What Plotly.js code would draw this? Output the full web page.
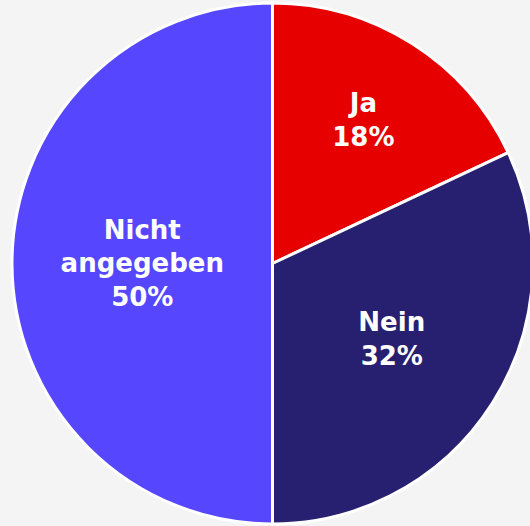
<!DOCTYPE html>
<html>
<head>
<meta charset="utf-8">
<script src="https://cdn.plot.ly/plotly-3.0.1.min.js"></script>
<style>
html,body{margin:0;padding:0;background:#f4f4f4;overflow:hidden;width:530px;height:526px;}
#chart{width:533px;height:526px;}
</style>
</head>
<body>
<div id="chart"></div>
<script>
const labels = ['Ja', 'Nein', 'Nicht<br>angegeben'];
const values = [18, 32, 50];
const colors = ['#e60000', '#271f70', '#5647ff'];

Plotly.newPlot('chart', [{
  type: 'pie',
  labels: labels,
  values: values,
  sort: false,
  direction: 'clockwise',
  rotation: 0,
  marker: {colors: colors, line: {color: '#ffffff', width: 3}},
  texttemplate: '%{label}<br>%{percent:.0%}',
  textposition: 'inside',
  insidetextorientation: 'horizontal',
  textfont: {family: 'DejaVu Sans, sans-serif', size: 26, color: '#ffffff', weight: 700},
  hoverinfo: 'none',
  showlegend: false
}], {
  width: 533,
  height: 526,
  margin: {l: 12, r: 0, t: 3, b: 2},
  paper_bgcolor: '#f4f4f4',
  plot_bgcolor: '#f4f4f4',
  showlegend: false
}, {displayModeBar: false, staticPlot: true});
</script>
</body>
</html>
